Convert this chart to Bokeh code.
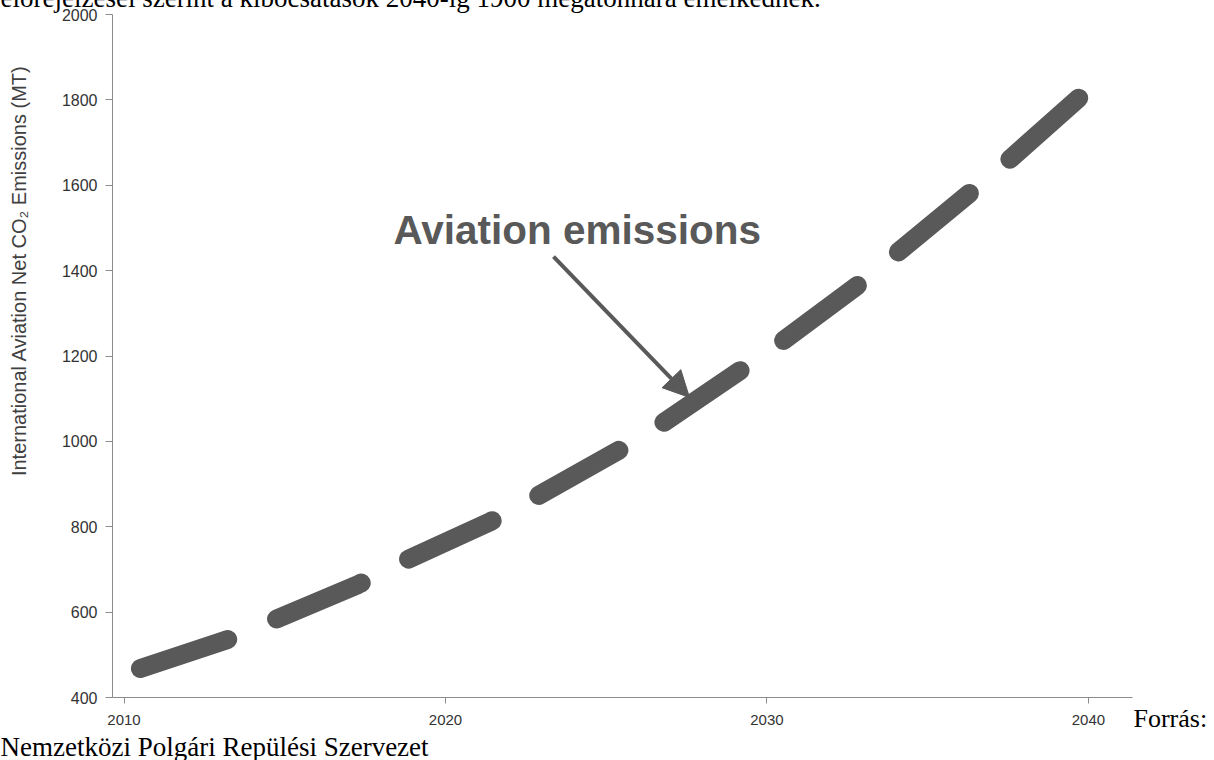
import math
from bokeh.plotting import figure
from bokeh.models import Label, Arrow, NormalHead, FixedTicker, Range1d
from bokeh.embed import file_html
from bokeh.resources import INLINE

# Data
years = [2010.51, 2013.16, 2014.71, 2017.29, 2018.76, 2021.40, 2022.89, 2025.44,
         2026.78, 2029.17, 2030.51, 2032.81, 2034.06, 2036.33, 2037.57, 2039.71]
emissions = [468, 534, 583, 665, 721, 812, 873, 981,
             1044, 1166, 1236, 1365, 1442, 1583, 1662, 1805]
x_ticks = [2010, 2020, 2030, 2040]
y_ticks = [400, 600, 800, 1000, 1200, 1400, 1600, 1800, 2000]

y_title = "International Aviation Net CO\u2082 Emissions (MT)"
annotation_text = "Aviation emissions"
annot_text_pos = (2018.38, 1494)
arrow_start = (2023.36, 1433)
arrow_end = (2027.59, 1103)
top_text = "előrejelzései szerint a kibocsátások 2040-ig 1900 megatonnára emelkednek."
source_1 = "Forrás:"
source_2 = "Nemzetközi Polgári Repülési Szervezet"

# positions (data units) of the texts around the plot area
y_title_pos = (2006.72, 1400)
top_text_pos = (2006.158, 2037.5)
source_1_pos = (2041.40, 350)
source_2_pos = (2006.158, 283)

GREY = "#595959"
AXIS = "#8c8c8c"

SHIFT = 18  # canvas is a bit taller and shifted up so the top text is cut by the window

p = figure(width=1214, height=760 + SHIFT, output_backend="svg", toolbar_location=None,
           x_range=Range1d(2009.642, 2041.37), y_range=Range1d(400, 2000),
           min_border_left=112, min_border_right=82, min_border_top=14 + SHIFT,
           min_border_bottom=63, styles={"margin-top": f"-{SHIFT}px"})
p.background_fill_color = "white"
p.border_fill_color = "white"
p.outline_line_color = None
p.xgrid.visible = False
p.ygrid.visible = False

for ax in (p.xaxis[0], p.yaxis[0]):
    ax.axis_line_color = AXIS
    ax.major_tick_line_color = AXIS
    ax.minor_tick_line_color = None
    ax.major_tick_in = 0
    ax.major_label_text_font = "Liberation Sans"
    ax.major_label_text_color = "#333333"

p.xaxis[0].ticker = FixedTicker(ticks=x_ticks)
p.yaxis[0].ticker = FixedTicker(ticks=y_ticks)
p.xaxis[0].major_tick_out = 6
p.yaxis[0].major_tick_out = 7
p.xaxis[0].major_label_standoff = 11
p.yaxis[0].major_label_standoff = 8
p.xaxis[0].major_label_text_font_size = "15px"
p.yaxis[0].major_label_text_font_size = "16px"

p.line(years, emissions, line_width=19, line_color=GREY, line_dash="92 53",
       line_cap="round", line_join="round")

p.add_layout(Arrow(end=NormalHead(size=26, fill_color=GREY, line_color=GREY),
                   x_start=arrow_start[0], y_start=arrow_start[1],
                   x_end=arrow_end[0], y_end=arrow_end[1],
                   line_color=GREY, line_width=4))

p.add_layout(Label(x=annot_text_pos[0], y=annot_text_pos[1], text=annotation_text,
                   text_font="Liberation Sans", text_font_style="bold",
                   text_font_size="40.5px", text_color=GREY,
                   text_baseline="alphabetic"))

# texts outside the frame: placed in side panels so they are not clipped
p.add_layout(Label(x=y_title_pos[0], y=y_title_pos[1], text=y_title,
                   angle=math.pi / 2, text_align="center", text_baseline="middle",
                   text_font="Liberation Sans", text_font_size="20px",
                   text_color="#404040"), "left")
p.add_layout(Label(x=top_text_pos[0], y=top_text_pos[1], text=top_text,
                   text_font="Liberation Serif", text_font_size="27px",
                   text_color="black", text_baseline="alphabetic"), "above")
p.add_layout(Label(x=source_1_pos[0], y=source_1_pos[1], text=source_1,
                   text_font="Liberation Serif", text_font_size="26px",
                   text_color="black", text_baseline="alphabetic"), "right")
p.add_layout(Label(x=source_2_pos[0], y=source_2_pos[1], text=source_2,
                   text_font="Liberation Serif", text_font_size="27px",
                   text_color="black", text_baseline="alphabetic"), "below")

open("out.html", "w").write(file_html(p, INLINE))
